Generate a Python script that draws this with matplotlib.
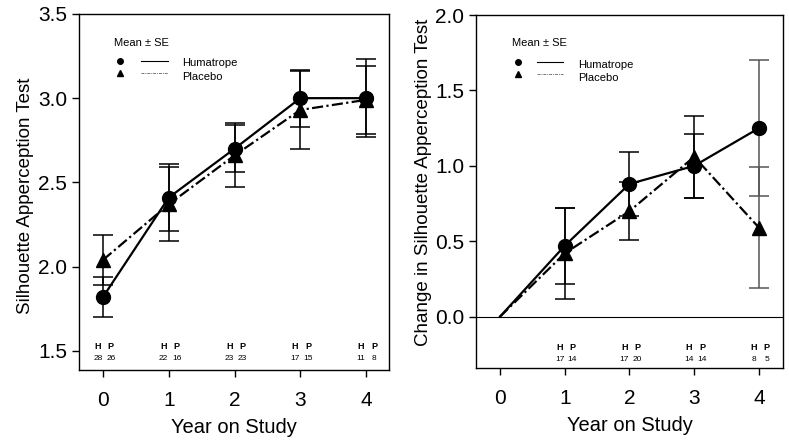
import numpy as np
import matplotlib.pyplot as plt
import matplotlib.transforms as mtransforms

plt.rcParams['font.family'] = ['Liberation Sans', 'DejaVu Sans']

years = [0, 1, 2, 3, 4]

# left panel: silhouette apperception test score
hum_score = [1.82, 2.41, 2.70, 3.00, 3.00]
hum_score_se = [0.12, 0.20, 0.14, 0.17, 0.23]
pla_score = [2.04, 2.37, 2.66, 2.93, 2.99]
pla_score_se = [0.15, 0.22, 0.19, 0.23, 0.20]
n_hum_score = ['28', '22', '23', '17', '11']
n_pla_score = ['26', '16', '23', '15', '8']

# right panel: change from baseline
chg_years = [1, 2, 3, 4]
hum_chg = [0.0, 0.47, 0.88, 1.00, 1.25]
hum_chg_se = [0.25, 0.21, 0.21, 0.45]
pla_chg = [0.0, 0.42, 0.70, 1.06, 0.59]
pla_chg_se = [0.30, 0.19, 0.27, 0.40]
n_hum_chg = ['17', '17', '14', '8']
n_pla_chg = ['14', '20', '14', '5']

dashdot = (0, (5, 1.5, 1, 1.5))


def legend_block(ax, x0, ytop, ymark1, ymark2, ytxt1, ytxt2, xl1, xl2, xt):
    ax.text(x0, ytop, 'Mean \u00b1 SE', transform=ax.transAxes, fontsize=8,
            va='center', ha='left')
    ax.plot([x0 + 0.02], [ymark1], 'o', color='k', ms=4, transform=ax.transAxes, clip_on=False)
    ax.plot([x0 + 0.02], [ymark2], '^', color='k', ms=4, transform=ax.transAxes, clip_on=False)
    ax.plot([xl1, xl2], [ymark1, ymark1], '-', color='k', lw=0.8, transform=ax.transAxes)
    ax.plot([xl1, xl2], [ymark2, ymark2], '-', color='#777', lw=0.7, linestyle=(0, (3, 1, 1, 1)),
            transform=ax.transAxes)
    ax.text(xt, ytxt1, 'Humatrope', transform=ax.transAxes, fontsize=8, va='center')
    ax.text(xt, ytxt2, 'Placebo', transform=ax.transAxes, fontsize=8, va='center')


def n_labels(ax, xs, nh, npl, yhp, ynum):
    trans = mtransforms.blended_transform_factory(ax.transData, ax.transAxes)
    for x, a, b in zip(xs, nh, npl):
        ax.text(x - 0.08, yhp, 'H', transform=trans, fontsize=6.5, fontweight='bold', ha='center', va='center')
        ax.text(x + 0.12, yhp, 'P', transform=trans, fontsize=6.5, fontweight='bold', ha='center', va='center')
        ax.text(x - 0.08, ynum, a, transform=trans, fontsize=6, ha='center', va='center')
        ax.text(x + 0.12, ynum, b, transform=trans, fontsize=6, ha='center', va='center')


def style_axes(ax):
    for s in ax.spines.values():
        s.set_linewidth(1.0)
    ax.tick_params(axis='both', direction='out', length=5, width=1, labelsize=15)
    ax.tick_params(axis='x', pad=10)
    ax.set_xticks(years)
    ax.set_xlim(-0.365, 4.35)
    ax.set_xlabel('Year on Study', fontsize=14.5, labelpad=6)


fig = plt.figure(figsize=(7.89, 4.44), dpi=100)

# ---- left panel
ax1 = fig.add_axes([0.1001, 0.1667, 0.393, 0.802])
ax1.errorbar(years, pla_score, yerr=pla_score_se, fmt='none', ecolor='k', elinewidth=1.1,
             capsize=7, capthick=1.1)
ax1.errorbar(years, hum_score, yerr=hum_score_se, fmt='none', ecolor='k', elinewidth=1.1,
             capsize=7, capthick=1.1)
ax1.plot(years, pla_score, color='k', lw=1.6, linestyle=dashdot, marker='^', ms=10)
ax1.plot(years, hum_score, color='k', lw=1.6, marker='o', ms=10)
ax1.set_ylim(1.387, 3.5)
ax1.set_yticks([1.5, 2.0, 2.5, 3.0, 3.5])
ax1.set_ylabel('Silhouette Apperception Test', fontsize=13.5)
style_axes(ax1)
ax1.yaxis.set_label_coords(-0.145, 0.49)
legend_block(ax1, 0.113, 0.918, 0.868, 0.834, 0.862, 0.824, 0.2, 0.287, 0.332)
n_labels(ax1, years, n_hum_score, n_pla_score, 0.067, 0.031)

# ---- right panel
ax2 = fig.add_axes([0.6033, 0.1712, 0.389, 0.795])
ax2.axhline(0, color='k', lw=0.8)
bar_col = ['k', 'k', 'k', '#555']
for i, x in enumerate(chg_years):
    ax2.errorbar([x], [pla_chg[i + 1]], yerr=[pla_chg_se[i]], fmt='none', ecolor=bar_col[i],
                 elinewidth=1.1, capsize=7, capthick=1.1)
    ax2.errorbar([x], [hum_chg[i + 1]], yerr=[hum_chg_se[i]], fmt='none', ecolor=bar_col[i],
                 elinewidth=1.1, capsize=7, capthick=1.1)
ax2.plot(years, pla_chg, color='k', lw=1.6, linestyle=dashdot)
ax2.plot(chg_years, pla_chg[1:], 'k^', ms=10)
ax2.plot(years, hum_chg, color='k', lw=1.6)
ax2.plot(chg_years, hum_chg[1:], 'ko', ms=10)
ax2.set_ylim(-0.34, 2.0)
ax2.set_yticks([0.0, 0.5, 1.0, 1.5, 2.0])
ax2.set_ylabel('Change in Silhouette Apperception Test', fontsize=13.5)
style_axes(ax2)
ax2.set_xlim(-0.37, 4.37)
ax2.yaxis.set_label_coords(-0.143, 0.527)
legend_block(ax2, 0.117, 0.921, 0.867, 0.833, 0.858, 0.822, 0.199, 0.283, 0.332)
n_labels(ax2, chg_years, n_hum_chg, n_pla_chg, 0.059, 0.025)

plt.savefig('out.png', dpi=100)
